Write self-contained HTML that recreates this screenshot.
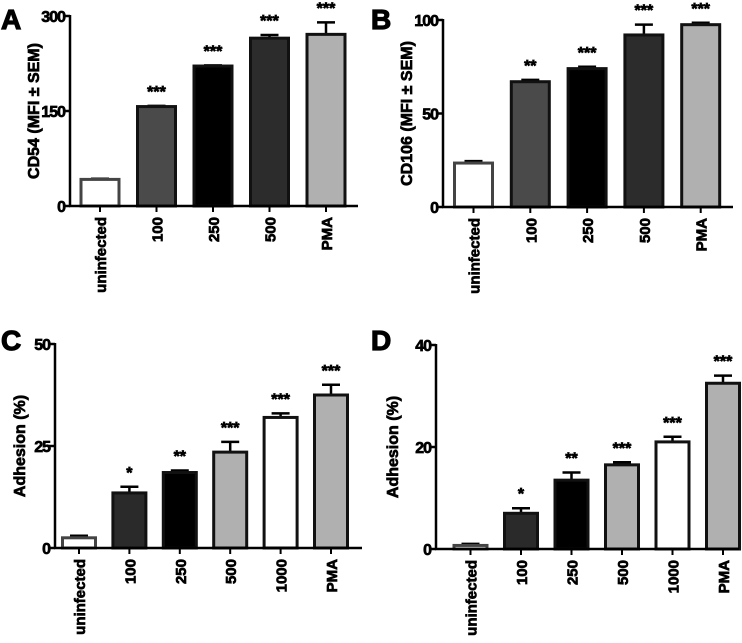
<!DOCTYPE html>
<html><head><meta charset="utf-8"><style>
html,body{margin:0;padding:0;background:#fff}
svg{display:block}
svg text{font-family:"Liberation Sans",Arial,sans-serif;font-weight:700}
</style></head><body>
<svg id="fig" width="742" height="643" viewBox="0 0 742 643"></svg>
<script>
const catsAB = ["uninfected","100","250","500","PMA"];
const catsCD = ["uninfected","100","250","500","1000","PMA"];
const valsA = [42,157,221,265,271];
const errA  = [43,158,222,270,290];
const starsA = ["","***","***","***","***"];
const valsB = [23.5,67,74,92,97.5];
const errB  = [24.5,68,75,97.5,98.5];
const starsB = ["","**","***","***","***"];
const valsC = [2.5,13.5,18.5,23.5,32,37.5];
const errC  = [3,15,19,26,33,40];
const starsC = ["","*","**","***","***","***"];
const valsD = [0.7,7,13.5,16.5,21,32.5];
const errD  = [1,8,15,17,22,34];
const starsD = ["","*","**","***","***","***"];
const ticksA = [0,150,300];
const ticksB = [0,50,100];
const ticksC = [0,25,50];
const ticksD = [0,20,40];
const colorsAB = ["#ffffff","#4a4a4a","#000000","#2c2c2c","#b0b0b0"];
const colorsCD = ["#ffffff","#2a2a2a","#000000","#b0b0b0","#ffffff","#b0b0b0"];

const NS="http://www.w3.org/2000/svg";
const svg=document.getElementById('fig');
function mk(tag,attrs,parent){const e=document.createElementNS(NS,tag);for(const k in attrs)e.setAttribute(k,attrs[k]);if(tag==='text'){e.setAttribute('font-weight','bold');e.setAttribute('stroke','#000');e.setAttribute('stroke-width','0.7');}(parent||svg).appendChild(e);return e;}

function panel(p){
  const g=mk('g',{});
  
  
  const ymax=p.ticks[p.ticks.length-1];
  const y=v=>p.y0-(v/ymax)*(p.y0-p.yTop);
  const x=i=>p.firstX+i*p.step;
  const lt=mk('text',{x:p.lx,y:p.ly,'font-size':28},g);lt.textContent=p.letter;
  lt.setAttribute('stroke-width','1.2');
  
  
  p.vals.forEach((v,i)=>{
    const cx=x(i), top=y(v), et=y(p.err[i]);
    const el=mk('line',{x1:cx,x2:cx,y1:top,y2:et,stroke:'#000','stroke-width':2.5},g);
    
    
    const ec=mk('line',{x1:cx-9,x2:cx+9,y1:et,y2:et,stroke:'#000','stroke-width':2.5},g);
    
    
    const r=mk('rect',{x:cx-p.bw/2,y:top,width:p.bw,height:p.y0-top,fill:p.colors[i],stroke:i==0?'#444':'#111','stroke-width':3},g);
    
    
    if(p.stars[i]){
      const s=mk('text',{x:cx,y:et-9,'text-anchor':'middle','font-size':16},g);
      s.textContent=p.stars[i];
      
      
    }
    const tk=mk('line',{x1:cx,x2:cx,y1:p.y0,y2:p.y0+6,stroke:'#000','stroke-width':2},g);
    
    
    const tl=mk('text',{x:0,y:0,'text-anchor':'end','font-size':15,transform:`translate(${cx+6},${p.y0+11}) rotate(-90)`},g);
    tl.textContent=p.cats[i];
    
    
  });
  const ya=mk('line',{x1:p.ax,x2:p.ax,y1:p.yTop-1,y2:p.y0+1,stroke:'#000','stroke-width':2.5},g);
  
  const xa=mk('line',{x1:p.ax-1,x2:p.xEnd,y1:p.y0,y2:p.y0,stroke:'#000','stroke-width':2.5},g);
  
  p.ticks.forEach(t=>{
    const tk=mk('line',{x1:p.ax-6,x2:p.ax,y1:y(t),y2:y(t),stroke:'#000','stroke-width':2.5},g);
    
    const tl=mk('text',{x:p.ax-5,y:y(t)+6,'text-anchor':'end','font-size':16,'letter-spacing':-1},g);
    tl.textContent=t;
    
  });
  const yt=mk('text',{x:0,y:0,'text-anchor':'middle','font-size':16,transform:`translate(${p.tx},${(p.y0+p.yTop)/2}) rotate(-90)`},g);
  yt.textContent=p.title;
  
}

panel({letter:'A',lx:1,ly:29,cats:catsAB,vals:valsA,err:errA,stars:starsA,ticks:ticksA,colors:colorsAB,
  ax:70,y0:206,yTop:16,xEnd:358,firstX:100,step:56.5,bw:38,tx:39,title:'CD54 (MFI \u00b1 SEM)'});
panel({letter:'B',lx:371,ly:29,cats:catsAB,vals:valsB,err:errB,stars:starsB,ticks:ticksB,colors:colorsAB,
  ax:443,y0:207,yTop:20,xEnd:733,firstX:473.5,step:56.8,bw:38,tx:412,title:'CD106 (MFI \u00b1 SEM)'});
panel({letter:'C',lx:1,ly:350,cats:catsCD,vals:valsC,err:errC,stars:starsC,ticks:ticksC,colors:colorsCD,
  ax:55,y0:548,yTop:344,xEnd:362,firstX:79,step:50.4,bw:33,tx:25,title:'Adhesion (%)'});
panel({letter:'D',lx:371,ly:350,cats:catsCD,vals:valsD,err:errD,stars:starsD,ticks:ticksD,colors:colorsCD,
  ax:436,y0:549,yTop:345,xEnd:739,firstX:470.5,step:50.5,bw:33,tx:398,title:'Adhesion (%)'});
</script>
</body></html>
